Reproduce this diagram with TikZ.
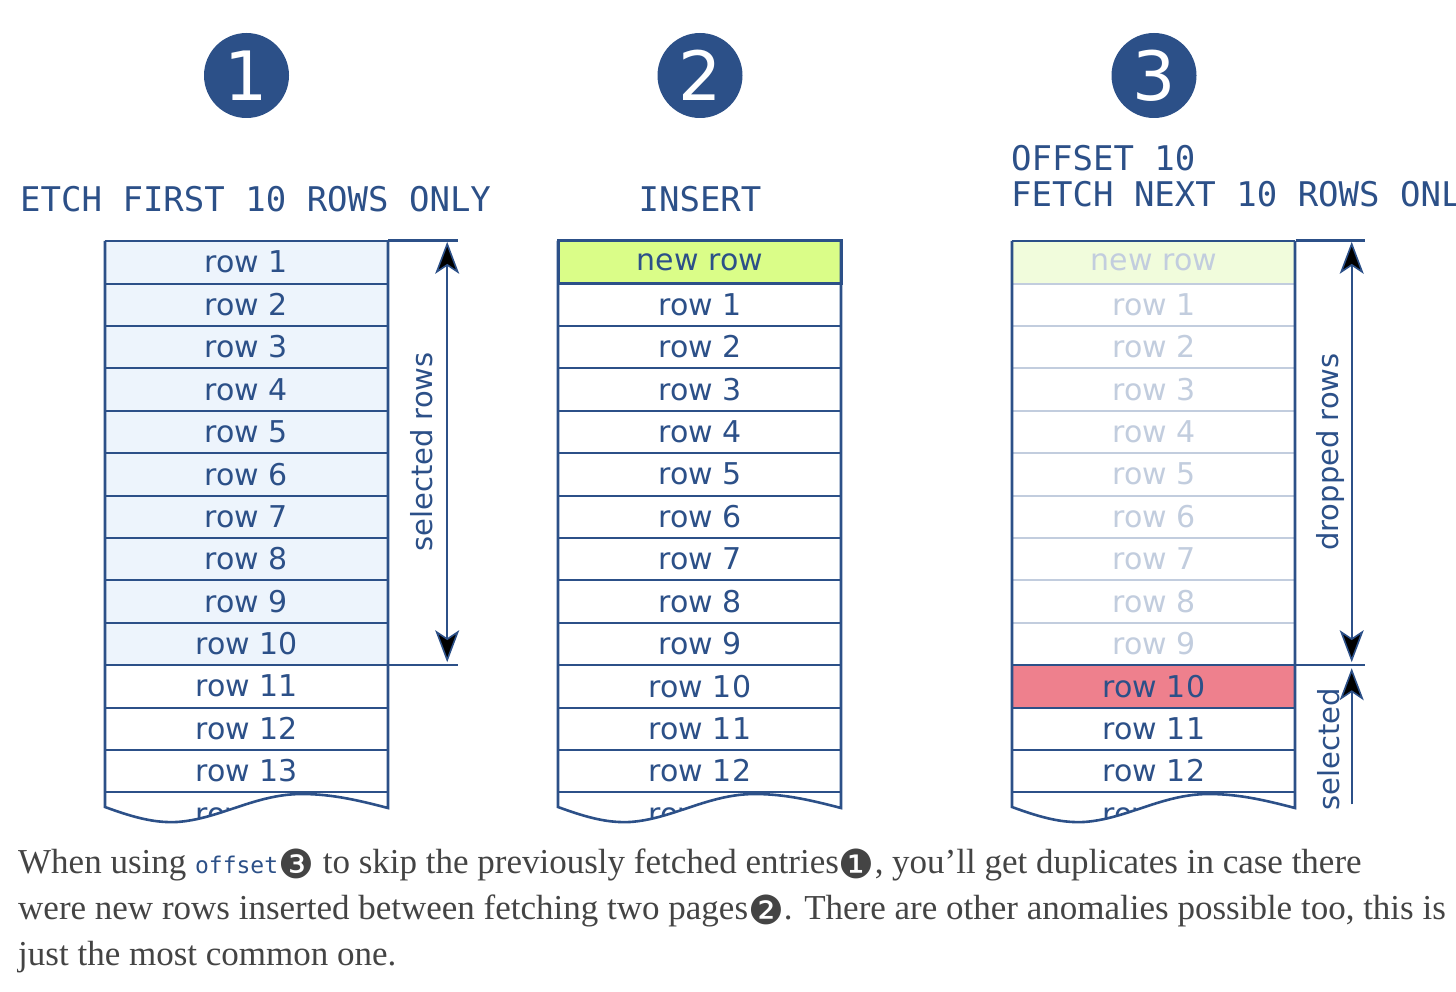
\documentclass[tikz,border=0pt]{standalone}
\usepackage{fontspec}
\setmainfont{Liberation Serif}
\setsansfont{DejaVu Sans}
\setmonofont{DejaVu Sans Mono}
\newfontfamily\dingfont{DejaVu Sans}
\usetikzlibrary{arrows.meta,positioning}

\definecolor{dkblue}{HTML}{2C5088}
\definecolor{selblue}{HTML}{EDF4FC}
\definecolor{newgreen}{HTML}{DAFD88}
\definecolor{palegreen}{HTML}{F1FCDC}
\definecolor{hitred}{HTML}{EE808D}
\definecolor{faded}{HTML}{C2CDDE}
\definecolor{captiongrey}{HTML}{444444}

\tikzset{
    rowcell/.style={minimum width=283pt, minimum height=42.4pt, inner sep=0pt,
        text=dkblue, font=\sffamily\fontsize{30}{36}\selectfont},
    sepline/.style={dkblue, line width=2pt},
    frame/.style={dkblue, line width=2.6pt},
    header/.style={text=dkblue, font=\ttfamily\fontsize{34}{38}\selectfont, inner sep=0pt},
    badge/.style={circle, fill=dkblue, minimum size=85pt, inner sep=0pt,
        text=white, font=\sffamily\fontsize{68}{70}\selectfont},
    sidelabel/.style={rotate=90, anchor=base, text=dkblue, inner sep=0pt,
        font=\sffamily\fontsize{29}{34}\selectfont},
    span/.style={dkblue, line width=2pt, {Stealth[length=32pt, width=24pt, inset=8pt, fill=black, line width=1.6pt]}-{Stealth[length=32pt, width=24pt, inset=8pt, fill=black, line width=1.6pt]}},
    upspan/.style={dkblue, line width=2pt, -{Stealth[length=32pt, width=24pt, inset=8pt, fill=black, line width=1.6pt]}},
    caption/.style={anchor=base west, text=captiongrey, inner sep=0pt,
        font=\fontsize{35}{40}\selectfont},
}
\newcommand\stepmark[1]{\raisebox{-5pt}{\dingfont\fontsize{40}{40}\selectfont #1}}

\begin{document}
\begin{tikzpicture}[x=1pt,y=-1pt]
    \useasboundingbox[fill=white] (0,0) rectangle (1456,992);
    \clip (0,0) rectangle (1456,992);

    % badges and headers
    \node[badge] (b1) at (246.5,75.5) {1};
    \node[badge] (b2) at (700,75.5) {2};
    \node[badge] (b3) at (1154,75.5) {3};
    \node[header, anchor=base west] (h1) at (20,212) {ETCH FIRST 10 ROWS ONLY};
    \node[header, anchor=base] (h2) at (700,212) {INSERT};
    \node[header, anchor=base west] (h3a) at (1011,171) {OFFSET 10};
    \node[header, anchor=base west] (h3b) at (1011,207) {FETCH NEXT 10 ROWS ONL};

    % first page
    \foreach \i in {1,...,10}
        \node[rowcell, fill=selblue] (p\i) at (246.5,{241+42.4*(\i-0.5)}) {row \i};
    \foreach \i in {11,12,13}
        \node[rowcell] (p\i) at (246.5,{241+42.4*(\i-0.5)}) {row \i};
    \foreach \i in {1,...,13}
        \draw[sepline] (p\i.south west) -- (p\i.south east);
    \draw[frame] (p1.north east) -- ([xshift=70pt]p1.north east);
    \draw[sepline] (p10.south east) -- ([xshift=70pt]p10.south east);
    \draw[span] ([xshift=59pt,yshift=-1pt]p1.north east) -- ([xshift=59pt,yshift=3pt]p10.south east);
    \node[sidelabel] (lsel) at (432,452) {selected rows};

    % insert
    \node[rowcell, fill=newgreen] (q0) at (700,262.2) {new row};
    \foreach \i in {1,...,12}
        \node[rowcell] (q\i) at (700,{241+42.4*(\i+0.5)}) {row \i};
    \foreach \i in {0,...,12}
        \draw[sepline] (q\i.south west) -- (q\i.south east);
    \draw[frame] (q0.north west) rectangle (q0.south east);

    % second page
    \node[rowcell, fill=palegreen, text=faded] (r0) at (1154,262.2) {new row};
    \foreach \i in {1,...,9}
        \node[rowcell, text=faded] (r\i) at (1154,{241+42.4*(\i+0.5)}) {row \i};
    \node[rowcell, fill=hitred] (r10) at (1154,{241+42.4*10.5}) {row 10};
    \foreach \i in {11,12}
        \node[rowcell] (r\i) at (1154,{241+42.4*(\i+0.5)}) {row \i};
    \foreach \i in {0,...,8}
        \draw[sepline, faded] (r\i.south west) -- (r\i.south east);
    \foreach \i in {9,...,12}
        \draw[sepline] (r\i.south west) -- (r\i.south east);
    \draw[frame] (r0.north east) -- ([xshift=69pt]r0.north east);
    \draw[sepline] (r9.south east) -- ([xshift=69pt]r9.south east);
    \draw[span] ([xshift=56pt,yshift=-1pt]r0.north east) -- ([xshift=56pt,yshift=3pt]r9.south east);
    \draw[upspan] ([xshift=56pt,yshift=-12pt]r12.south east) -- ([xshift=56pt,yshift=-3pt]r9.south east);
    \node[sidelabel] (ldrop) at (1338,452) {dropped rows};
    \node[sidelabel] (lsel3) at (1339,749) {selected};

    % torn bottom edge
    \foreach \L/\last in {105/14,558/13,1012/13} {
        \begin{scope}[shift={(\L,0)}]
            \begin{scope}
                \clip (0,793) -- (0,807) .. controls (30,818) and (50,823) .. (72,822)
                    .. controls (115,819) and (150,794) .. (197,794)
                    .. controls (228,794) and (256,801) .. (283,808) -- (283,793) -- cycle;
                \node[rowcell] (tail\L) at (141.5,813.4) {row \last};
            \end{scope}
            \draw[frame] (0,241) -- (283,241);
            \draw[frame] (0,241) -- (0,807) .. controls (30,818) and (50,823) .. (72,822)
                .. controls (115,819) and (150,794) .. (197,794)
                .. controls (228,794) and (256,801) .. (283,808) -- (283,241);
        \end{scope}
    }

    % caption
    \node[caption] (c1) at (18,873) {When using {\ttfamily\color{dkblue}\fontsize{23}{24}\selectfont offset}\stepmark{❸} to skip the previously fetched entries\stepmark{❶}, you’ll get duplicates in case there};
    \node[caption] (c2) at (18,919) {were new rows inserted between fetching two pages\stepmark{❷}. There are other anomalies possible too, this is};
    \node[caption] (c3) at (18,965) {just the most common one.};
\end{tikzpicture}
\end{document}
